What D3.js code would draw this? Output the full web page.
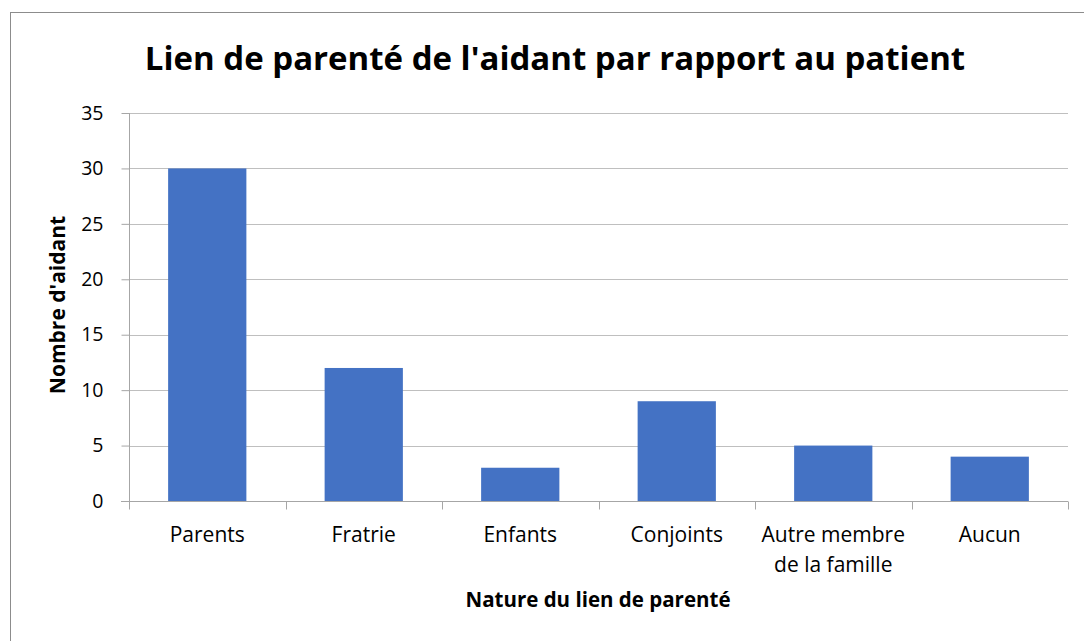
<!DOCTYPE html>
<html>
<head>
<meta charset="utf-8">
<script src="https://cdn.jsdelivr.net/npm/d3@7"></script>
<style>
  body { margin: 0; background: #fff; }
  svg text { font-family: "Open Sans", Calibri, sans-serif; fill: #000; }
</style>
</head>
<body>
<div id="chart"></div>
<script>
// Data
const categories = [["Parents"], ["Fratrie"], ["Enfants"], ["Conjoints"], ["Autre membre", "de la famille"], ["Aucun"]];
const values = [30, 12, 3, 9, 5, 4];
const yTicks = [0, 5, 10, 15, 20, 25, 30, 35];

const W = 1084, H = 641;
const margin = { top: 113, right: 16, bottom: 140, left: 129 };
const width = W - margin.left - margin.right;
const height = H - margin.top - margin.bottom;

const svg = d3.select("#chart").append("svg")
  .attr("width", W)
  .attr("height", H);

// outer chart border
svg.append("rect")
  .attr("x", 10.5).attr("y", 12.5)
  .attr("width", W + 10).attr("height", H + 10)
  .attr("fill", "none")
  .attr("stroke", "#8c8c8c")
  .attr("stroke-width", 1);

const g = svg.append("g")
  .attr("transform", `translate(${margin.left},${margin.top})`);

const keys = categories.map((c, i) => i);
const x = d3.scaleBand().domain(keys).range([0, width]).paddingInner(0.5).paddingOuter(0.25);
const xOuter = d3.scaleBand().domain(keys).range([0, width]);
const y = d3.scaleLinear().domain([0, 35]).range([height, 0]);

// gridlines
g.append("g")
  .selectAll("line")
  .data(yTicks.filter(d => d > 0))
  .enter().append("line")
  .attr("x1", 0).attr("x2", width)
  .attr("y1", d => Math.round(y(d)) + 0.5)
  .attr("y2", d => Math.round(y(d)) + 0.5)
  .attr("stroke", "#bfbfbf")
  .attr("stroke-width", 1);

// bars
g.selectAll(".bar")
  .data(values)
  .enter().append("rect")
  .attr("class", "bar")
  .attr("x", (d, i) => x(i))
  .attr("y", d => y(d))
  .attr("width", x.bandwidth())
  .attr("height", d => height - y(d))
  .attr("fill", "#4472c4");

// y axis
const yAxis = g.append("g")
  .attr("transform", "translate(0.5,0)")
  .call(d3.axisLeft(y).tickValues(yTicks).tickSize(8).tickPadding(18));
yAxis.select(".domain").attr("stroke", "#a6a6a6").attr("d", `M0,0V${height}`);
yAxis.selectAll(".tick line").attr("stroke", "#a6a6a6");
yAxis.selectAll("text").style("font-size", "19.5px").attr("fill", "#000");

// x axis with ticks at band edges
const xAxisG = g.append("g")
  .attr("transform", `translate(0,${Math.round(height) + 0.5})`);
xAxisG.append("line")
  .attr("x1", -8).attr("x2", width)
  .attr("stroke", "#a6a6a6");
xAxisG.selectAll(".xt")
  .data(d3.range(keys.length + 1))
  .enter().append("line")
  .attr("class", "xt")
  .attr("x1", d => Math.round(d * xOuter.step()) + 0.5)
  .attr("x2", d => Math.round(d * xOuter.step()) + 0.5)
  .attr("y1", 0).attr("y2", 8)
  .attr("stroke", "#a6a6a6");

const labels = xAxisG.selectAll(".xl")
  .data(categories)
  .enter().append("text")
  .attr("class", "xl")
  .attr("text-anchor", "middle")
  .attr("x", (d, i) => x(i) + x.bandwidth() / 2)
  .attr("y", 40)
  .style("font-size", "21px");
labels.selectAll("tspan")
  .data(d => d)
  .enter().append("tspan")
  .attr("x", function() { return d3.select(this.parentNode).attr("x"); })
  .attr("dy", (d, i) => i === 0 ? 0 : 30)
  .text(d => d);

// title
svg.append("text")
  .attr("x", 555).attr("y", 70)
  .attr("text-anchor", "middle")
  .style("font-size", "33px")
  .style("font-weight", "bold")
  .text("Lien de parenté de l'aidant par rapport au patient");

// axis titles
svg.append("text")
  .attr("transform", "translate(65,305) rotate(-90)")
  .attr("text-anchor", "middle")
  .style("font-size", "21px")
  .style("font-weight", "bold")
  .text("Nombre d'aidant");

svg.append("text")
  .attr("x", 598).attr("y", 607)
  .attr("text-anchor", "middle")
  .style("font-size", "20.5px")
  .style("font-weight", "bold")
  .text("Nature du lien de parenté");
</script>
</body>
</html>
